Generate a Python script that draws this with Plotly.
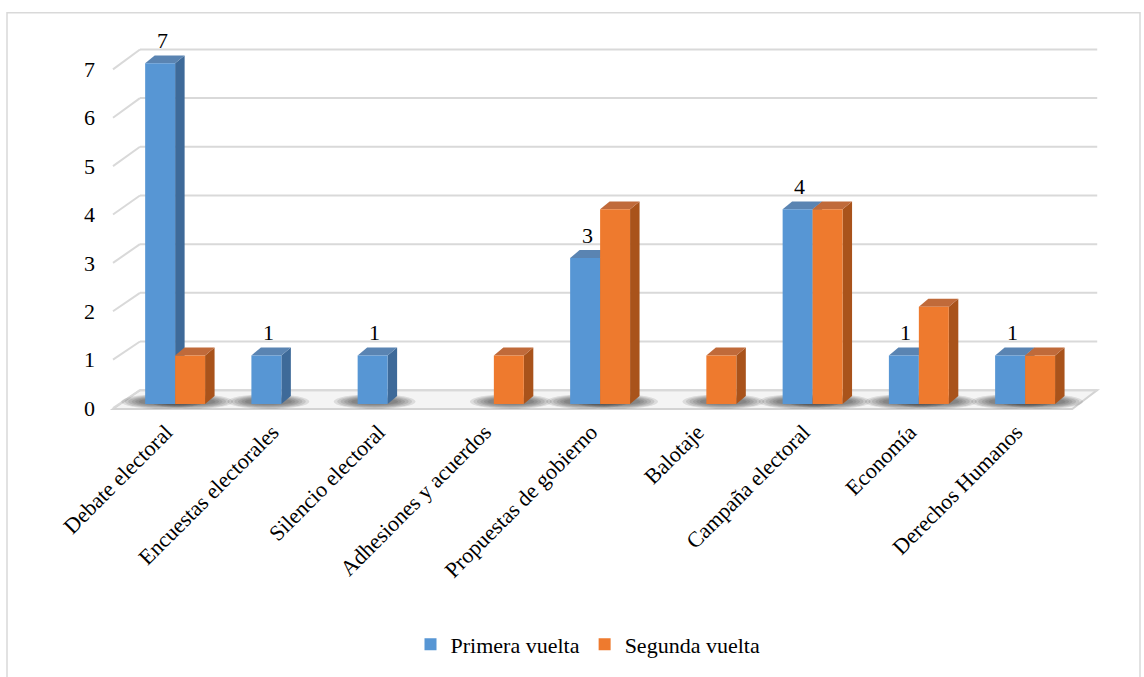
import plotly.graph_objects as go

# ---- data ----
categories = [
    "Debate electoral", "Encuestas electorales", "Silencio electoral",
    "Adhesiones y acuerdos", "Propuestas de gobierno", "Balotaje",
    "Campaña electoral", "Economía", "Derechos Humanos",
]
primera_vuelta = [7, 1, 1, 0, 3, 0, 4, 1, 1]
segunda_vuelta = [1, 0, 0, 1, 4, 1, 4, 2, 1]
y_ticks = [0, 1, 2, 3, 4, 5, 6, 7]

# ---- page geometry ----
W, H = 1144, 677
ML, MR, MT, MB = 100, 44, 38.5, 263
PLOT_W = W - ML - MR
PLOT_H = H - MT - MB
X_RANGE = [-0.707, 8.705]
Y_RANGE = [-0.163, 7.5]
KX = PLOT_W / (X_RANGE[1] - X_RANGE[0])   # pixels per category
KY = PLOT_H / (Y_RANGE[1] - Y_RANGE[0])   # pixels per unit


def dx(px):
    return px / KX


def dy(px):
    return px / KY


FONT = "Liberation Serif"
FS = 22
BW = 0.282                          # bar width (category units)
DEPTH_X, DEPTH_Y = dx(9.5), dy(8)   # 3D depth of the bars
WALL_X, WALL_Y = dx(18), dy(14)     # back wall offset
FRONT_SCALE = 0.994                 # front axis scale relative to bars
FRONT_SHIFT = dy(4)

BLUE = dict(front="#5796d4", side="#3e6a99", top="#5a84b2")
ORANGE = dict(front="#ee7a2e", side="#a9531b", top="#c06a3a")

fig = go.Figure()

xs = list(range(len(categories)))
fig.add_trace(go.Bar(
    x=xs, y=primera_vuelta, name="Primera vuelta",
    width=BW, offset=-BW, marker=dict(color=BLUE["front"], line=dict(width=0)),
))
fig.add_trace(go.Bar(
    x=xs, y=segunda_vuelta, name="Segunda vuelta",
    width=BW, offset=0, marker=dict(color=ORANGE["front"], line=dict(width=0)),
))

# hidden trace that carries the front value axis
fig.add_trace(go.Scatter(x=[0], y=[0], yaxis="y2", mode="markers",
                         marker=dict(opacity=0), showlegend=False, hoverinfo="skip"))

shapes = []

# floor
x_fl = X_RANGE[0] + dx(13)
x_fr = 8.5 - dx(6)
x_bl = -0.5 + WALL_X
x_br = 8.5 + dx(19)
y_front = -dy(5)
shapes.append(dict(
    type="path", xref="x", yref="y", layer="below",
    path=f"M{x_fl},{y_front} L{x_fr},{y_front} L{x_br},{WALL_Y} L{x_bl},{WALL_Y} Z",
    fillcolor="#f4f4f4", line=dict(color="#d3d3d3", width=2),
))

# back wall gridlines and the slanted connectors to the front axis
for t in y_ticks:
    shapes.append(dict(type="line", xref="x", yref="y", layer="below",
                       x0=x_bl, x1=x_br, y0=t + WALL_Y, y1=t + WALL_Y,
                       line=dict(color="#d9d9d9", width=2)))
    shapes.append(dict(type="line", xref="x", yref="y", layer="below",
                       x0=x_fl, x1=x_bl, y0=t * FRONT_SCALE - FRONT_SHIFT, y1=t + WALL_Y,
                       line=dict(color="#d9d9d9", width=2)))

# soft shadows on the floor, then the 3D faces of the bars
series = [(primera_vuelta, -BW, BLUE), (segunda_vuelta, 0.0, ORANGE)]
for values, off, col in series:
    for i, v in enumerate(values):
        if v <= 0:
            continue
        xl = i + off
        for k in range(6):
            shapes.append(dict(
                type="circle", xref="x", yref="y", layer="between",
                x0=xl - dx(24 - 3.5 * k), x1=xl + BW + dx(28 - 3.5 * k),
                y0=-dy(5 - 0.8 * k), y1=dy(10 - 0.8 * k),
                fillcolor="rgba(30,30,30,0.11)", line=dict(width=0),
            ))
for values, off, col in series:
    for i, v in enumerate(values):
        if v <= 0:
            continue
        xl = i + off
        xr = xl + BW
        shapes.append(dict(
            type="path", xref="x", yref="y", layer="between",
            path=f"M{xr},0 L{xr},{v} L{xr + DEPTH_X},{v + DEPTH_Y} L{xr + DEPTH_X},{DEPTH_Y} Z",
            fillcolor=col["side"], line=dict(width=0),
        ))
        shapes.append(dict(
            type="path", xref="x", yref="y", layer="between",
            path=f"M{xl},{v} L{xr},{v} L{xr + DEPTH_X},{v + DEPTH_Y} L{xl + DEPTH_X},{v + DEPTH_Y} Z",
            fillcolor=col["top"], line=dict(width=0),
        ))

# chart border
bottom_px = MT + PLOT_H
shapes.append(dict(
    type="rect", xref="paper", yref="paper", layer="below",
    x0=(7 - ML) / PLOT_W, x1=(1140 - ML) / PLOT_W,
    y0=(bottom_px - 700) / PLOT_H, y1=(bottom_px - 12) / PLOT_H,
    line=dict(color="#d9d9d9", width=1.5), fillcolor="rgba(0,0,0,0)",
))

# value labels for the first round
annotations = []
for i, v in enumerate(primera_vuelta):
    if v <= 0:
        continue
    annotations.append(dict(
        x=i - BW / 2 + dx(2), y=v, xref="x", yref="y",
        text=str(v), showarrow=False, yanchor="bottom", yshift=8,
        font=dict(family=FONT, size=FS, color="#000000"),
    ))

y2_range = [(Y_RANGE[0] + FRONT_SHIFT) / FRONT_SCALE, (Y_RANGE[1] + FRONT_SHIFT) / FRONT_SCALE]

fig.update_layout(
    width=W, height=H,
    margin=dict(l=ML, r=MR, t=MT, b=MB, pad=0),
    paper_bgcolor="white", plot_bgcolor="rgba(0,0,0,0)",
    barmode="overlay",
    font=dict(family=FONT, size=FS, color="#000000"),
    xaxis=dict(
        range=X_RANGE, tickmode="array", tickvals=xs, ticktext=categories,
        tickangle=-45, showgrid=False, zeroline=False, showline=False, ticks="",
        ticklabelshift=-9, ticklabelstandoff=2,
        tickfont=dict(family=FONT, size=FS, color="#000000"),
    ),
    yaxis=dict(range=Y_RANGE, showgrid=False, zeroline=False, showline=False,
               showticklabels=False, ticks=""),
    yaxis2=dict(range=y2_range, overlaying="y", side="left", tickmode="array",
                tickvals=y_ticks, showgrid=False, zeroline=False, showline=False,
                ticks="", ticklabelstandoff=4,
                tickfont=dict(family=FONT, size=FS, color="#000000")),
    legend=dict(orientation="h", x=0.488, xanchor="center",
                y=(bottom_px - 648) / PLOT_H, yanchor="middle",
                font=dict(family=FONT, size=FS, color="#000000"),
                itemwidth=30, bgcolor="rgba(0,0,0,0)"),
    shapes=shapes,
    annotations=annotations,
    showlegend=True,
)

fig.write_html("out.html")
